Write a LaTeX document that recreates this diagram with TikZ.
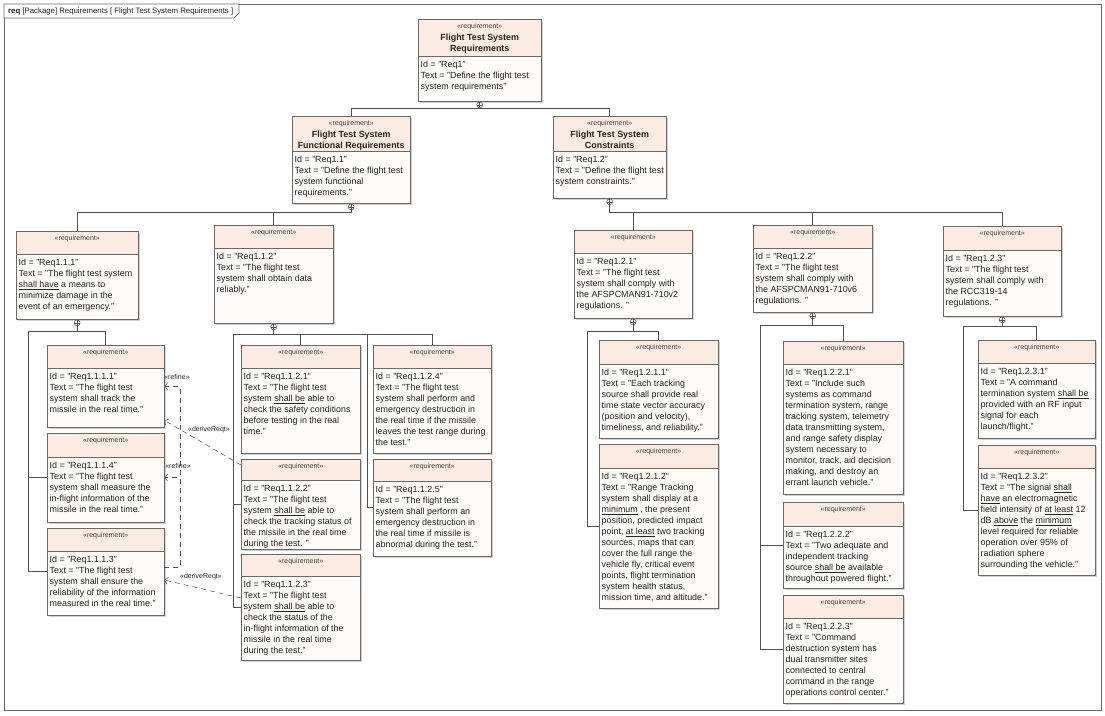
\documentclass[tikz,border=0pt]{standalone}
\usepackage{fontspec}
\setmainfont{Liberation Sans}
\usetikzlibrary{arrows.meta,shadows}

\definecolor{reqhead}{RGB}{251,235,226}
\definecolor{reqbody}{RGB}{255,251,248}
\definecolor{reqline}{RGB}{105,105,105}
\definecolor{wire}{RGB}{80,80,80}
\definecolor{ink}{RGB}{35,35,35}

\tikzset{
	reqbox/.style = {fill=reqbody, inner sep=0, anchor=north west,
		drop shadow={shadow xshift=2pt, shadow yshift=-2pt, fill=black!30, opacity=0.6}},
	reqframe/.style = {draw=reqline, line width=0.6pt},
	stereo/.style = {font=\fontsize{7}{8}\selectfont, inner sep=0, text=ink!85},
	reqtitle/.style = {font=\bfseries\fontsize{8.9}{11}\selectfont, align=center, anchor=north, inner sep=0, text=ink},
	reqtext/.style = {font=\fontsize{8.9}{11}\selectfont, align=left, anchor=north west, inner sep=0, text=ink},
	plus/.style = {circle, draw=wire, fill=white, minimum size=6pt, inner sep=0, line width=0.5pt,
		path picture={\draw[wire, line width=0.5pt]
			(path picture bounding box.north) -- (path picture bounding box.south)
			(path picture bounding box.west) -- (path picture bounding box.east);}},
	tree/.style = {draw=wire, line width=0.7pt},
	dep/.style = {draw=wire, line width=0.5pt, dash pattern=on 5pt off 4pt,
		-{Straight Barb[length=3pt, width=7pt]}},
	deplabel/.style = {font=\fontsize{7}{8}\selectfont, text=ink, inner sep=0},
	framec/.style = {draw=reqline, line width=0.6pt},
	tablabel/.style = {font=\fontsize{7.8}{9}\selectfont, text=ink, anchor=west, inner sep=0}
}

% name, left, top, width, height, header height, title, text
\newcommand{\drawreq}[8]{%
	\node[reqbox, minimum width=#4pt, minimum height=#5pt] (#1) at (#2,#3) {};
	\fill[reqhead] (#1.north west) rectangle ([yshift=-#6pt]#1.north east);
	\draw[reqframe] (#1.north west) rectangle (#1.south east);
	\draw[reqframe] ([yshift=-#6pt]#1.north west) -- ([yshift=-#6pt]#1.north east);
	\node[stereo] (#1-st) at ([yshift=-7.5pt]#1.north) {«requirement»};
	\node[reqtitle] (#1-nm) at ([yshift=-14.8pt]#1.north) {#7};
	\node[reqtext] (#1-tx) at ([xshift=2.5pt, yshift=-#6pt-4.8pt]#1.north west) {#8};
}

\begin{document}
\begin{tikzpicture}[x=1pt, y=-1pt]
	\fill[white] (0,0) rectangle (1105,715);
	\useasboundingbox (0,0) rectangle (1105,715);
	\draw[framec] (4,4) rectangle (1101,710);
	\draw[framec, fill=white] (4,4) -- (239,4) -- (239,13) -- (234,18) -- (4,18) -- cycle;
	\node[tablabel] (tab) at (8,11) {\textbf{req} [Package] Requirements [ Flight Test System Requirements ]};

	\drawreq{r1}{418}{19}{123}{82}{37}{Flight Test System\\Requirements}
		{Id = "Req1"\\Text = "Define the flight test\\system requirements"}
	\drawreq{r11}{292}{116}{118}{87}{35}{Flight Test System\\Functional Requirements}
		{Id = "Req1.1"\\Text = "Define the flight test\\system functional\\requirements."}
	\drawreq{r12}{553}{116}{113}{82}{35}{Flight Test System\\Constraints}
		{Id = "Req1.2"\\Text = "Define the flight test\\system constraints."}

	\drawreq{r111}{16}{231}{122}{88}{23}{}
		{Id = "Req1.1.1"\\Text = "The flight test system\\\underline{shall have} a means to\\minimize damage in the\\event of an emergency."}
	\drawreq{r112}{214}{225}{119}{98}{23}{}
		{Id = "Req1.1.2"\\Text = "The flight test\\system shall obtain data\\reliably."}
	\drawreq{r121}{574}{230}{118}{88}{23}{}
		{Id = "Req1.2.1"\\Text = "The flight test\\system shall comply with\\the AFSPCMAN91-710v2\\regulations. "}
	\drawreq{r122}{753}{225}{119}{87}{23}{}
		{Id = "Req1.2.2"\\Text = "The flight test\\system shall comply with\\the AFSPCMAN91-710v6\\regulations. "}
	\drawreq{r123}{943}{226}{118}{90}{24}{}
		{Id = "Req1.2.3"\\Text = "The flight test\\system shall comply with\\the RCC319-14\\regulations. "}

	\drawreq{r1111}{47}{345}{117}{82}{23}{}
		{Id = "Req1.1.1.1"\\Text = "The flight test\\system shall track the\\missile in the real time."}
	\drawreq{r1114}{47}{433}{117}{89}{24}{}
		{Id = "Req1.1.1.4"\\Text = "The flight test\\system shall measure the\\in-flight information of the\\missile in the real time."}
	\drawreq{r1113}{47}{528}{117}{87}{23}{}
		{Id = "Req1.1.1.3"\\Text = "The flight test\\system shall ensure the\\reliability of the information\\measured in the real time."}

	\drawreq{r1121}{241}{345}{119}{108}{23}{}
		{Id = "Req1.1.2.1"\\Text = "The flight test\\system \underline{shall be} able to\\check the safety conditions\\before testing in the real\\time."}
	\drawreq{r1122}{241}{459}{119}{90}{21}{}
		{Id = "Req1.1.2.2"\\Text = "The flight test\\system \underline{shall be} able to\\check the tracking status of\\the missile in the real time\\during the test. "}
	\drawreq{r1123}{241}{554}{119}{106}{22}{}
		{Id = "Req1.1.2.3"\\Text = "The flight test\\system \underline{shall be} able to\\check the status of the\\in-flight information of the\\missile in the real time\\during the test."}
	\drawreq{r1124}{373}{345}{118}{108}{23}{}
		{Id = "Req1.1.2.4"\\Text = "The flight test\\system shall perform and\\emergency destruction in\\the real time if the missile\\leaves the test range during\\the test."}
	\drawreq{r1125}{373}{459}{118}{97}{22}{}
		{Id = "Req1.1.2.5"\\Text = "The flight test\\system shall perform an\\emergency destruction in\\the real time if missile is\\abnormal during the test."}

	\drawreq{r1211}{599}{340}{119}{98}{24}{}
		{Id = "Req1.2.1.1"\\Text = "Each tracking\\source shall provide real\\time state vector accuracy\\(position and velocity),\\timeliness, and reliability."}
	\drawreq{r1212}{599}{444}{119}{164}{24}{}
		{Id = "Req1.2.1.2"\\Text = "Range Tracking\\system shall display at a\\\underline{minimum} , the present\\position, predicted impact\\point, \underline{at least} two tracking\\sources, maps that can\\cover the full range the\\vehicle fly, critical event\\points, flight termination\\system health status,\\mission time, and altitude."}

	\drawreq{r1221}{783}{341}{120}{153}{23}{}
		{Id = "Req1.2.2.1"\\Text = "Include such\\systems as command\\termination system, range\\tracking system, telemetry\\data transmitting system,\\and range safety display\\system necessary to\\monitor, track, aid decision\\making, and destroy an\\errant launch vehicle."}
	\drawreq{r1222}{783}{502}{120}{86}{24}{}
		{Id = "Req1.2.2.2"\\Text = "Two adequate and\\independent tracking\\source \underline{shall be} available\\throughout powered flight."}
	\drawreq{r1223}{783}{595}{120}{108}{23}{}
		{Id = "Req1.2.2.3"\\Text = "Command\\destruction system has\\dual transmitter sites\\connected to central\\command in the range\\operations control center."}

	\drawreq{r1231}{978}{340}{117}{98}{23}{}
		{Id = "Req1.2.3.1"\\Text = "A command\\termination system \underline{shall be}\\provided with an RF input\\signal for each\\launch/flight."}
	\drawreq{r1232}{978}{445}{117}{130}{23}{}
		{Id = "Req1.2.3.2"\\Text = "The signal \underline{shall}\\\underline{have} an electromagnetic\\field intensity of \underline{at least} 12\\dB \underline{above} the \underline{minimum}\\level required for reliable\\operation over 95\% of\\radiation sphere\\surrounding the vehicle."}

	\foreach \p in {r1, r11, r12, r111, r112, r121, r122, r123}
		\node[plus] (\p-p) at ([yshift=-3.5pt]\p.south) {};

	\coordinate (b1) at (0,108);
	\coordinate (b2) at (0,212);
	\coordinate (l1) at (28,331);
	\coordinate (l2) at (233,334);
	\coordinate (l3) at (367,334);
	\coordinate (l4) at (587,331);
	\coordinate (l5) at (760,325);
	\coordinate (l6) at (963,326);
	\coordinate (dl) at (180,0);

	\foreach \c in {r11, r12}
		\draw[tree] (r1-p.south) |- (\c.north |- b1) -- (\c.north);
	\foreach \c in {r111, r112}
		\draw[tree] (r11-p.south) |- (\c.north |- b2) -- (\c.north);
	\foreach \c in {r121, r122, r123}
		\draw[tree] (r12-p.south) |- (\c.north |- b2) -- (\c.north);

	\draw[tree] (r111-p.south) |- (r1111.north |- l1) -- (r1111.north);
	\foreach \c in {r1114, r1113}
		\draw[tree] (r111-p.south) |- (l1) |- (\c.west);

	\foreach \c in {r1121, r1124}
		\draw[tree] (r112-p.south) |- (\c.north |- l2) -- (\c.north);
	\foreach \c in {r1122, r1123}
		\draw[tree] (r112-p.south) |- (l2) |- (\c.west);
	\draw[tree] (r112-p.south) |- (l3) |- (r1125.west);

	\draw[tree] (r121-p.south) |- (r1211.north |- l4) -- (r1211.north);
	\draw[tree] (r121-p.south) |- (l4) |- (r1212.west);

	\draw[tree] (r122-p.south) |- (r1221.north |- l5) -- (r1221.north);
	\foreach \c in {r1222, r1223}
		\draw[tree] (r122-p.south) |- (l5) |- (\c.west);

	\draw[tree] (r123-p.south) |- (r1231.north |- l6) -- (r1231.north);
	\draw[tree] (r123-p.south) |- (l6) |- (r1232.west);

	\foreach \c in {r1111, r1114}
		\draw[dep] ([yshift=-39pt]r1113.north east) -| (dl |- \c.east) -- (\c.east);
	\draw[dep] ([yshift=-6pt]r1122.north west) -- ([yshift=7pt]r1111.south east);
	\draw[dep] ([yshift=-44pt]r1123.north west) -- ([yshift=-52pt]r1113.north east);

	\node[deplabel] (ref1) at (177,377) {«refine»};
	\node[deplabel] (ref2) at (178,466) {«refine»};
	\node[deplabel] (der1) at (209,430) {«deriveReqt»};
	\node[deplabel] (der2) at (201,577) {«deriveReqt»};
\end{tikzpicture}
\end{document}
